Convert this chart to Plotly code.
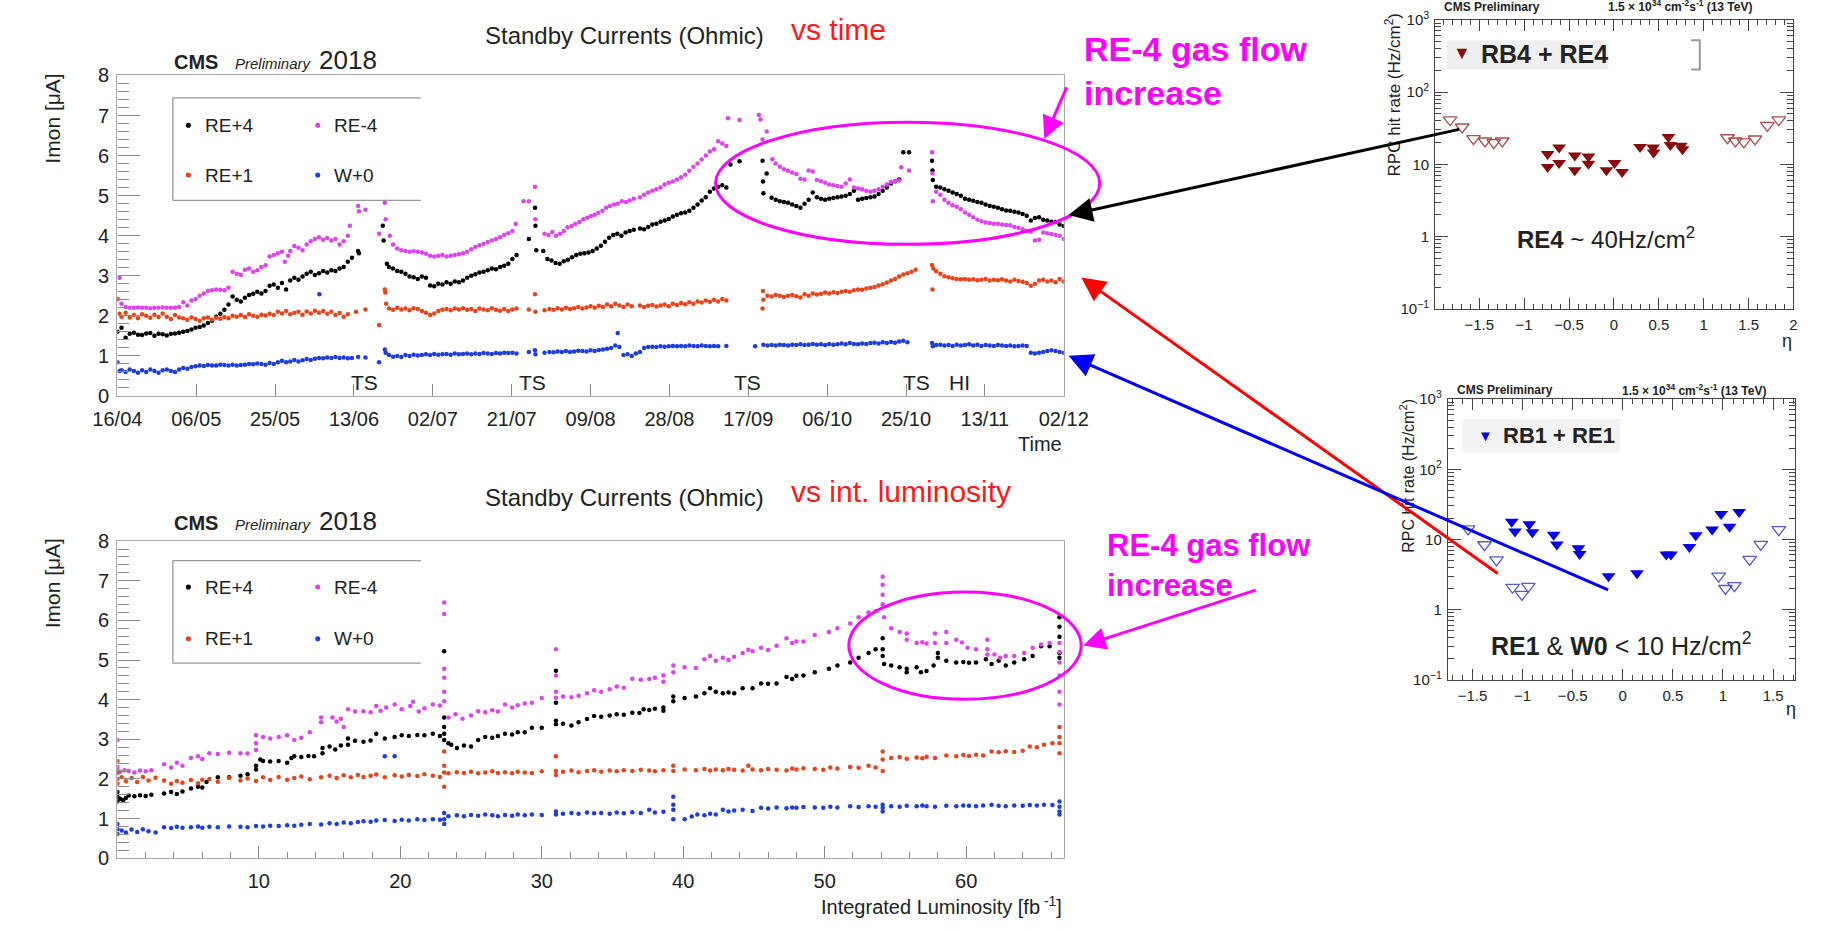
import plotly.graph_objects as go

W, H = 1825, 929
FONT = "Liberation Sans, Arial, Helvetica, sans-serif"

# ---------------------------------------------------------------- data
DATE_LABELS = ["16/04", "06/05", "25/05", "13/06", "02/07", "21/07", "09/08",
               "28/08", "17/09", "06/10", "25/10", "13/11", "02/12"]
DAY_SPAN = 230  # days from 16/04 to 02/12

# Standby currents vs time: (days since 16/04, Imon [uA])
RE_P4_TIME = [
    (0, 1.60), (1, 1.70), (2, 1.45), (3, 1.55), (4, 1.58), (5, 1.53), (6, 1.52), (7, 1.56), (8, 1.57),
    (9, 1.50), (10, 1.55), (11, 1.54), (12, 1.51), (13, 1.55), (14, 1.56), (15, 1.58), (16, 1.60),
    (17, 1.62), (18, 1.66), (19, 1.70), (20, 1.72), (21, 1.76), (22, 1.82), (23, 1.88), (24, 1.98),
    (25, 2.05), (26, 2.15), (27, 2.28), (28, 2.48), (29, 2.40), (30, 2.36), (31, 2.45), (32, 2.52),
    (33, 2.55), (34, 2.60), (35, 2.56), (36, 2.62), (37, 2.75), (38, 2.78), (39, 2.70), (40, 2.82),
    (41, 2.66), (42, 2.88), (43, 2.95), (44, 2.90), (45, 2.98), (46, 3.05), (47, 3.10), (48, 3.02),
    (49, 3.06), (50, 3.12), (51, 3.08), (52, 3.14), (53, 3.12), (54, 3.18), (55, 3.22), (56, 3.35),
    (57, 3.45), (58.5, 3.62), (58.7, 3.56), (64.5, 4.25), (64.7, 3.88), (65.5, 3.30), (66, 3.22),
    (67, 3.18), (68, 3.12), (69, 3.10), (70, 3.05), (71, 2.98), (72, 2.96), (73, 2.92), (74, 2.98),
    (75, 2.95), (76, 2.76), (77, 2.74), (78, 2.80), (79, 2.78), (80, 2.84), (81, 2.80), (82, 2.86),
    (83, 2.84), (84, 2.88), (85, 2.95), (86, 3.00), (87, 3.04), (88, 3.08), (89, 3.10), (90, 3.14),
    (91, 3.18), (92, 3.16), (93, 3.22), (94, 3.25), (95, 3.30), (96, 3.42), (97, 3.52), (100, 3.92),
    (101.5, 4.70), (101.6, 4.25), (101.8, 3.64), (103.5, 3.62), (104.5, 3.42), (105.5, 3.38),
    (106.5, 3.32), (107.5, 3.30), (108.5, 3.36), (109.5, 3.40), (110.5, 3.46), (111.5, 3.52),
    (112.5, 3.55), (113.5, 3.56), (114.5, 3.58), (115.5, 3.62), (116.5, 3.68), (117.5, 3.75),
    (118.5, 3.85), (119.5, 3.95), (120.5, 4.02), (121.5, 4.05), (122.5, 4.00), (123.5, 4.08),
    (124.5, 4.12), (125.5, 4.15), (127, 4.18), (128, 4.16), (129, 4.22), (130, 4.28), (131, 4.30),
    (132, 4.35), (133, 4.38), (134, 4.42), (135, 4.48), (136, 4.52), (137, 4.56), (138, 4.58),
    (139, 4.62), (140, 4.70), (141, 4.78), (142, 4.88), (143, 4.96), (144, 5.10), (145, 5.18),
    (146, 5.22), (147, 5.26), (148, 5.20), (149, 5.78), (151.2, 5.86), (156.8, 5.87), (156.9, 5.35),
    (157, 5.06), (157.8, 5.55), (159, 4.95), (160, 4.90), (161, 4.86), (162, 4.84), (163, 4.82),
    (164, 4.78), (165, 4.74), (166, 4.70), (167, 4.80), (168, 4.90), (169, 5.08), (170, 4.96),
    (171, 4.92), (172, 4.90), (173, 4.92), (174, 4.94), (175, 4.96), (176, 4.98), (177, 5.00),
    (178, 5.04), (179, 5.12), (180, 4.90), (181, 4.92), (182, 4.94), (183, 4.96), (184, 4.98),
    (185, 5.04), (186, 5.12), (187, 5.20), (188, 5.30), (189, 5.36), (190, 5.40), (191, 6.08),
    (192.4, 6.08), (198, 5.87), (198.1, 5.63), (198.2, 5.39), (199, 5.22), (200, 5.20), (201, 5.16),
    (202, 5.12), (203, 5.08), (204, 5.04), (205, 5.00), (206, 4.92), (207, 4.90), (208, 4.87),
    (209, 4.84), (210, 4.82), (211, 4.78), (212, 4.74), (213, 4.72), (214, 4.70), (215, 4.66),
    (216, 4.63), (217, 4.62), (218, 4.60), (219, 4.58), (220, 4.54), (221, 4.50), (222, 4.38),
    (223, 4.44), (224, 4.46), (225, 4.40), (226, 4.38), (227, 4.35), (228, 4.34), (229, 4.28),
    (230, 4.24),
]
RE_M4_TIME = [
    (0, 2.42), (0.5, 2.95), (1, 2.30), (2, 2.22), (3, 2.20), (4, 2.20), (5, 2.21), (6, 2.20), (7, 2.20),
    (8, 2.19), (9, 2.20), (10, 2.20), (11, 2.21), (12, 2.20), (13, 2.20), (14, 2.20), (15, 2.22),
    (16, 2.34), (17, 2.26), (18, 2.38), (19, 2.42), (20, 2.50), (21, 2.56), (22, 2.62), (23, 2.64),
    (24, 2.66), (25, 2.65), (26, 2.64), (27, 2.70), (28, 3.10), (29, 3.05), (30, 3.02), (31, 3.15),
    (32, 3.18), (33, 3.10), (34, 3.14), (35, 3.22), (36, 3.26), (37, 3.48), (38, 3.52), (39, 3.56),
    (40, 3.60), (40.7, 3.35), (41.5, 3.50), (42, 3.62), (43, 3.74), (44, 3.70), (45, 3.64), (46, 3.78),
    (47, 3.86), (48, 3.92), (49, 3.96), (50, 3.90), (51, 3.94), (52, 3.88), (53, 3.92), (54, 3.78),
    (55, 3.86), (56, 4.00), (56.5, 4.25), (58.5, 4.74), (58.7, 4.61), (60.3, 4.65), (63.6, 4.05),
    (65, 4.82), (65.2, 4.41), (66.2, 4.00), (67, 3.78), (68, 3.68), (69, 3.64), (70, 3.62), (71, 3.60),
    (72, 3.61), (73, 3.60), (74, 3.58), (75, 3.55), (76, 3.50), (77, 3.48), (78, 3.50), (79, 3.52),
    (80, 3.48), (81, 3.50), (82, 3.52), (83, 3.54), (84, 3.56), (85, 3.60), (86, 3.66), (87, 3.72),
    (88, 3.76), (89, 3.80), (90, 3.84), (91, 3.88), (92, 3.92), (93, 3.96), (94, 4.02), (95, 4.06),
    (96, 4.12), (96.8, 4.29), (98.7, 4.86), (100, 4.86), (101.5, 5.22), (101.6, 4.41), (103.8, 4.05),
    (104.8, 4.02), (105.7, 4.09), (106.6, 4.00), (107.6, 4.05), (108.5, 4.12), (109.4, 4.21),
    (110.4, 4.24), (111.3, 4.29), (112.3, 4.34), (113.2, 4.41), (114.2, 4.45), (115.1, 4.49),
    (116, 4.52), (116.9, 4.57), (117.9, 4.62), (118.8, 4.70), (119.7, 4.74), (120.7, 4.78),
    (121.6, 4.80), (122.6, 4.86), (123.6, 4.84), (124.5, 4.88), (125.5, 4.92), (127, 4.96), (128, 5.02),
    (129, 5.08), (130, 5.12), (131, 5.16), (132, 5.20), (133, 5.28), (134, 5.32), (135, 5.35),
    (136, 5.40), (137, 5.46), (138, 5.52), (139, 5.62), (140, 5.72), (141, 5.80), (142, 5.90),
    (143, 6.00), (144, 6.10), (145, 6.16), (146, 6.36), (147, 6.30), (148, 6.24), (148.4, 6.93),
    (151.2, 6.89), (155.9, 7.01), (156.3, 6.90), (156.8, 6.40), (157.8, 6.60), (159.2, 5.91),
    (160, 5.80), (161, 5.72), (162, 5.66), (163, 5.62), (164, 5.58), (165, 5.54), (166, 5.42),
    (167, 5.40), (168, 5.63), (169, 5.60), (170, 5.39), (171, 5.36), (172, 5.32), (173, 5.28),
    (174, 5.26), (175, 5.24), (176, 5.22), (177, 5.30), (178, 5.40), (179, 5.20), (180, 5.18),
    (181, 5.16), (182, 5.12), (183, 5.10), (184, 5.12), (185, 5.16), (186, 5.22), (187, 5.28),
    (188, 5.34), (189, 5.36), (190, 5.38), (190.5, 5.71), (192.4, 5.63), (198, 6.08), (198.1, 5.55),
    (198.2, 4.86), (199, 5.10), (200, 5.02), (201, 4.90), (202, 4.82), (203, 4.76), (204, 4.72),
    (205, 4.66), (206, 4.58), (207, 4.52), (208, 4.46), (209, 4.40), (210, 4.36), (211, 4.33),
    (212, 4.32), (213, 4.30), (214, 4.30), (215, 4.28), (216, 4.27), (217, 4.26), (218, 4.22),
    (219, 4.20), (220, 4.16), (221, 4.12), (222, 4.10), (223, 3.88), (224, 3.90), (225, 4.08),
    (226, 4.06), (227, 4.04), (228, 4.02), (229, 4.00), (230, 3.92),
]
RE_P1_TIME = [
    (0, 2.42), (0.5, 2.05), (1, 1.98), (2, 2.08), (3, 1.96), (4, 2.02), (5, 1.94), (6, 2.04), (7, 2.00),
    (8, 1.95), (9, 2.03), (10, 1.97), (11, 2.06), (12, 1.98), (13, 1.92), (14, 2.02), (15, 1.96),
    (16, 1.94), (17, 1.90), (18, 1.96), (19, 1.92), (20, 1.88), (21, 1.94), (22, 1.96), (23, 1.90),
    (24, 1.95), (25, 1.93), (26, 1.97), (27, 1.94), (28, 2.00), (29, 1.98), (30, 2.02), (31, 1.97),
    (32, 2.04), (33, 2.00), (34, 1.98), (35, 2.03), (36, 2.01), (37, 2.05), (38, 2.02), (39, 2.10),
    (40, 2.06), (41, 2.12), (42, 2.04), (43, 2.08), (44, 2.10), (45, 2.03), (46, 2.11), (47, 2.06),
    (48, 2.13), (49, 2.08), (50, 2.12), (51, 2.05), (52, 2.10), (53, 2.02), (54, 2.07), (55, 1.98),
    (56, 2.04), (58, 2.10), (60.3, 2.16), (63.6, 1.77), (65, 2.66), (65.1, 2.58), (65.3, 2.30),
    (66, 2.18), (67, 2.15), (68, 2.20), (69, 2.16), (70, 2.18), (71, 2.14), (72, 2.19), (73, 2.17),
    (74, 2.12), (75, 2.08), (76, 2.02), (77, 2.06), (78, 2.12), (79, 2.15), (80, 2.17), (81, 2.14),
    (82, 2.18), (83, 2.16), (84, 2.19), (85, 2.15), (86, 2.17), (87, 2.12), (88, 2.18), (89, 2.16),
    (90, 2.14), (91, 2.19), (92, 2.15), (93, 2.13), (94, 2.17), (95, 2.12), (96, 2.16), (97, 2.18),
    (100, 2.16), (101.5, 2.54), (101.6, 2.10), (103.8, 2.14), (105, 2.17), (106, 2.15), (107, 2.19),
    (108, 2.16), (109, 2.20), (110, 2.17), (111, 2.19), (112, 2.22), (113, 2.18), (114, 2.21),
    (115, 2.24), (116, 2.20), (117, 2.25), (118, 2.22), (119, 2.28), (120, 2.24), (121, 2.30),
    (122, 2.26), (123, 2.22), (124, 2.28), (125, 2.24), (127, 2.26), (128, 2.22), (129, 2.25),
    (130, 2.27), (131, 2.23), (132, 2.26), (133, 2.28), (134, 2.24), (135, 2.30), (136, 2.27),
    (137, 2.32), (138, 2.29), (139, 2.34), (140, 2.30), (141, 2.36), (142, 2.33), (143, 2.38),
    (144, 2.35), (145, 2.40), (146, 2.36), (147, 2.42), (148, 2.38), (156.8, 2.18), (156.9, 2.62),
    (157, 2.40), (158, 2.50), (159, 2.48), (160, 2.52), (161, 2.50), (162, 2.47), (163, 2.50),
    (164, 2.52), (165, 2.49), (166, 2.46), (167, 2.54), (168, 2.50), (169, 2.56), (170, 2.53),
    (171, 2.55), (172, 2.58), (173, 2.56), (174, 2.59), (175, 2.57), (176, 2.60), (177, 2.62),
    (178, 2.60), (179, 2.64), (180, 2.66), (181, 2.65), (182, 2.68), (183, 2.70), (184, 2.72),
    (185, 2.76), (186, 2.79), (187, 2.83), (188, 2.88), (189, 2.92), (190, 2.98), (191, 3.03),
    (192, 3.06), (193, 3.10), (194, 3.15), (198, 3.27), (198.1, 2.66), (198.3, 3.18), (199, 3.11),
    (200, 3.05), (201, 2.99), (202, 2.96), (203, 2.94), (204, 2.92), (205, 2.91), (206, 2.92),
    (207, 2.90), (208, 2.91), (209, 2.89), (210, 2.90), (211, 2.92), (212, 2.88), (213, 2.90),
    (214, 2.89), (215, 2.91), (216, 2.88), (217, 2.86), (218, 2.90), (219, 2.87), (220, 2.85),
    (221, 2.82), (222, 2.75), (223, 2.80), (224, 2.88), (225, 2.90), (226, 2.86), (227, 2.88),
    (228, 2.84), (229, 2.92), (230, 2.86),
]
W_P0_TIME = [
    (0, 0.84), (0.5, 0.62), (1, 0.64), (2, 0.60), (3, 0.66), (4, 0.62), (5, 0.58), (6, 0.64), (7, 0.60),
    (8, 0.66), (9, 0.62), (10, 0.58), (11, 0.64), (12, 0.66), (13, 0.62), (14, 0.60), (15, 0.66),
    (16, 0.70), (17, 0.68), (18, 0.72), (19, 0.74), (20, 0.76), (21, 0.75), (22, 0.77), (23, 0.76),
    (24, 0.76), (25, 0.78), (26, 0.77), (27, 0.76), (28, 0.78), (29, 0.76), (30, 0.77), (31, 0.78),
    (32, 0.80), (33, 0.79), (34, 0.81), (35, 0.80), (36, 0.78), (37, 0.82), (38, 0.80), (39, 0.84),
    (40, 0.88), (41, 0.84), (42, 0.86), (43, 0.90), (44, 0.86), (45, 0.89), (46, 0.92), (47, 0.90),
    (48, 0.93), (49, 0.95), (49.1, 2.54), (50, 0.94), (51, 0.96), (52, 0.95), (53, 0.97), (54, 0.95),
    (55, 0.96), (56, 0.94), (57, 0.95), (58.5, 0.97), (60.3, 0.96), (63.6, 0.84), (65, 1.16),
    (65.2, 1.08), (66, 1.02), (67, 0.98), (68, 1.00), (69, 0.97), (70, 1.02), (71, 1.00), (72, 1.03),
    (73, 1.01), (74, 1.02), (75, 1.04), (76, 1.02), (77, 1.05), (78, 1.03), (79, 1.04), (80, 1.05),
    (81, 1.03), (82, 1.06), (83, 1.04), (84, 1.05), (85, 1.06), (86, 1.04), (87, 1.06), (88, 1.05),
    (89, 1.07), (90, 1.06), (91, 1.05), (92, 1.07), (93, 1.06), (94, 1.08), (95, 1.07), (96, 1.08),
    (97, 1.06), (100, 1.10), (101.5, 1.14), (101.6, 1.04), (103.8, 1.08), (105, 1.10), (106, 1.09),
    (107, 1.11), (108, 1.10), (109, 1.12), (110, 1.10), (111, 1.11), (112, 1.13), (113, 1.12),
    (114, 1.11), (115, 1.14), (116, 1.12), (117, 1.15), (118, 1.16), (119, 1.18), (120, 1.20),
    (121, 1.26), (121.6, 1.57), (122, 1.22), (123, 1.02), (124, 1.04), (125, 1.00), (126, 1.06),
    (127, 1.10), (128, 1.20), (129, 1.22), (130, 1.23), (131, 1.22), (132, 1.24), (133, 1.23),
    (134, 1.24), (135, 1.25), (136, 1.24), (137, 1.25), (138, 1.24), (139, 1.26), (140, 1.25),
    (141, 1.24), (142, 1.26), (143, 1.25), (144, 1.24), (145, 1.25), (146, 1.24), (148, 1.25),
    (155, 1.24), (157, 1.28), (158, 1.26), (159, 1.27), (160, 1.26), (161, 1.28), (162, 1.27),
    (163, 1.26), (164, 1.28), (165, 1.27), (166, 1.29), (167, 1.27), (168, 1.28), (169, 1.30),
    (170, 1.28), (171, 1.29), (172, 1.27), (173, 1.30), (174, 1.28), (175, 1.29), (176, 1.31),
    (177, 1.29), (178, 1.32), (179, 1.30), (180, 1.29), (181, 1.31), (182, 1.30), (183, 1.32),
    (184, 1.33), (185, 1.31), (186, 1.34), (187, 1.32), (188, 1.35), (189, 1.33), (190, 1.36),
    (191, 1.38), (192, 1.34), (198, 1.32), (198.2, 1.24), (199, 1.27), (200, 1.28), (201, 1.26),
    (202, 1.27), (203, 1.25), (204, 1.28), (205, 1.26), (206, 1.27), (207, 1.29), (208, 1.26),
    (209, 1.28), (210, 1.25), (211, 1.27), (212, 1.26), (213, 1.25), (214, 1.27), (215, 1.26),
    (216, 1.25), (217, 1.26), (218, 1.24), (219, 1.25), (220, 1.26), (221, 1.25), (222, 1.08),
    (223, 1.06), (224, 1.08), (225, 1.10), (226, 1.12), (227, 1.14), (228, 1.12), (229, 1.10),
    (230, 1.08),
]

# Standby currents vs integrated luminosity: (fb^-1, Imon [uA])
RE_P4_LUMI = [
    (0.0, 1.43), (0.0, 1.55), (0.0, 1.67), (0.2, 1.50), (0.4, 1.46), (0.6, 1.52), (0.8, 1.58), (1.2, 1.56),
    (1.6, 1.59), (2.0, 1.57), (2.4, 1.60), (3.3, 1.63), (3.8, 1.67), (4.2, 1.62), (4.6, 1.68), (5.2, 1.76),
    (5.7, 1.80), (6.0, 1.78), (6.3, 1.92), (7.1, 2.04), (7.9, 2.04), (8.7, 2.08), (9.2, 2.12), (9.8, 2.24),
    (9.8, 2.33), (10.1, 2.49), (10.3, 2.45), (10.8, 2.44), (11.4, 2.45), (12.0, 2.41), (12.3, 2.53),
    (12.5, 2.57), (13.0, 2.55), (13.5, 2.58), (13.9, 2.57), (14.5, 2.65), (14.5, 2.78), (15.0, 2.82),
    (15.4, 2.74), (15.8, 2.84), (16.3, 3.02), (16.3, 2.86), (16.8, 2.96), (17.4, 2.94), (17.9, 2.97),
    (18.3, 3.14), (18.9, 3.02), (19.6, 3.06), (20.1, 3.10), (20.6, 3.08), (21.2, 3.11), (21.7, 3.10),
    (22.3, 3.14), (22.8, 3.08), (23.1, 5.22), (23.1, 3.55), (23.1, 3.31), (23.1, 3.14), (23.1, 2.98),
    (23.4, 2.90), (23.6, 2.86), (24.0, 2.78), (24.5, 2.84), (25.0, 2.82), (25.5, 2.98), (26.0, 3.06),
    (26.5, 3.04), (26.9, 3.08), (27.4, 3.14), (27.9, 3.12), (28.3, 3.18), (28.8, 3.18), (29.3, 3.29),
    (30.0, 3.29), (31.0, 4.73), (31.0, 3.92), (31.0, 3.47), (31.0, 3.38), (31.5, 3.39), (32.1, 3.35),
    (32.6, 3.43), (33.2, 3.51), (33.7, 3.59), (34.2, 3.57), (34.8, 3.60), (35.3, 3.63), (35.8, 3.62),
    (36.4, 3.67), (36.9, 3.66), (37.2, 3.76), (37.6, 3.74), (38.0, 3.77), (38.6, 3.80), (38.6, 3.72),
    (39.3, 4.08), (39.3, 3.96), (40.1, 4.04), (40.9, 4.08), (41.5, 4.16), (41.9, 4.29), (42.3, 4.20),
    (42.8, 4.16), (43.2, 4.18), (43.6, 4.16), (44.2, 4.29), (44.9, 4.29), (45.5, 4.41), (46.0, 4.40),
    (46.6, 4.41), (47.3, 4.57), (47.7, 4.52), (48.0, 4.60), (48.5, 4.61), (49.3, 4.69), (50.3, 4.78),
    (50.9, 4.86), (51.8, 4.94), (52.4, 5.06), (53.1, 5.18), (53.6, 5.27), (54.1, 5.55), (54.1, 5.27),
    (54.1, 5.10), (54.2, 4.90), (54.7, 4.86), (55.3, 4.82), (55.8, 4.78), (55.8, 4.69), (56.5, 4.82),
    (56.8, 4.69), (57.2, 4.72), (57.7, 4.86), (58.0, 5.18), (58.0, 5.06), (58.6, 4.98), (59.3, 4.94),
    (59.8, 4.95), (60.2, 4.93), (60.7, 4.94), (61.4, 5.02), (61.8, 4.90), (62.3, 4.98), (62.8, 4.86),
    (63.4, 4.94), (64.1, 5.02), (64.7, 5.10), (65.3, 5.35), (65.9, 5.35), (66.6, 6.08), (66.6, 5.84),
    (66.6, 5.59), (66.6, 5.18), (66.6, 5.06),
]
RE_M4_LUMI = [
    (0.0, 2.98), (0.0, 2.30), (0.0, 2.22), (0.0, 2.15), (0.2, 2.18), (0.5, 2.22), (0.8, 2.20), (1.2, 2.16),
    (1.6, 2.21), (2.0, 2.19), (2.4, 2.22), (3.3, 2.37), (3.8, 2.29), (4.2, 2.41), (4.6, 2.33), (5.2, 2.53),
    (5.7, 2.57), (6.0, 2.50), (6.5, 2.65), (7.1, 2.63), (7.9, 2.66), (8.7, 2.65), (9.2, 2.64), (9.8, 3.10),
    (9.8, 2.90), (9.8, 2.73), (10.3, 3.06), (10.8, 3.02), (11.4, 3.06), (12.0, 3.10), (12.5, 2.98),
    (13.0, 3.04), (13.6, 3.18), (14.4, 3.55), (14.4, 3.43), (15.2, 3.55), (15.5, 3.45), (15.8, 3.52),
    (16.0, 3.31), (16.3, 3.76), (16.8, 3.70), (17.4, 3.71), (17.9, 3.68), (18.3, 3.84), (18.6, 3.72),
    (19.0, 3.80), (19.6, 3.88), (20.1, 3.76), (20.7, 3.84), (20.9, 3.95), (21.3, 3.70), (21.7, 3.78),
    (22.3, 3.88), (22.8, 3.85), (23.1, 6.45), (23.1, 6.16), (23.1, 4.78), (23.1, 4.55), (23.1, 4.20),
    (23.1, 3.96), (23.4, 3.55), (23.9, 3.63), (24.4, 3.52), (25.0, 3.60), (25.5, 3.71), (26.0, 3.68),
    (26.5, 3.73), (26.9, 3.70), (27.4, 3.88), (27.9, 3.80), (28.3, 3.86), (28.8, 3.90), (29.3, 3.92),
    (30.0, 4.04), (31.0, 5.27), (31.0, 4.61), (31.0, 4.20), (31.0, 4.05), (31.5, 4.08), (32.1, 4.06),
    (32.6, 4.10), (33.2, 4.16), (33.7, 4.24), (34.2, 4.20), (34.8, 4.26), (35.3, 4.33), (35.8, 4.30),
    (36.4, 4.53), (37.0, 4.50), (37.6, 4.52), (38.0, 4.55), (38.6, 4.61), (38.6, 4.45), (39.3, 4.86),
    (39.3, 4.69), (40.1, 4.82), (40.9, 4.80), (41.5, 5.02), (41.9, 5.10), (42.3, 4.98), (42.8, 5.06),
    (43.2, 5.00), (43.6, 5.08), (44.2, 5.18), (44.6, 5.26), (44.9, 5.22), (45.5, 5.31), (46.0, 5.25),
    (46.6, 5.36), (47.3, 5.55), (47.7, 5.43), (48.0, 5.47), (48.5, 5.47), (49.3, 5.63), (50.3, 5.71),
    (50.9, 5.80), (51.8, 5.92), (52.4, 6.08), (53.1, 6.20), (53.6, 6.24), (54.1, 7.10), (54.1, 6.90),
    (54.1, 6.65), (54.1, 6.41), (54.2, 6.08), (54.7, 5.80), (55.3, 5.71), (55.8, 5.67), (55.8, 5.51),
    (56.5, 5.43), (56.9, 5.45), (57.2, 5.42), (57.8, 5.67), (57.8, 5.43), (58.6, 5.71), (58.6, 5.43),
    (59.3, 5.51), (59.7, 5.44), (60.1, 5.31), (60.7, 5.27), (61.5, 5.51), (61.5, 5.27), (61.5, 5.14),
    (62.0, 5.14), (62.4, 5.06), (62.8, 5.10), (63.4, 5.10), (64.1, 5.18), (64.7, 5.31), (65.3, 5.39),
    (65.9, 5.43), (66.6, 5.43), (66.6, 5.20), (66.6, 4.94), (66.6, 4.61), (66.6, 4.20), (66.6, 3.88),
]
RE_P1_LUMI = [
    (0.0, 2.45), (0.0, 2.16), (0.0, 2.00), (0.0, 1.88), (0.3, 2.04), (0.6, 1.94), (1.0, 2.02), (1.4, 1.92),
    (1.8, 2.05), (2.2, 1.96), (2.7, 2.03), (3.3, 1.96), (3.8, 1.88), (4.2, 1.95), (4.6, 1.90), (5.2, 1.97),
    (5.7, 1.89), (6.0, 1.98), (6.5, 2.00), (7.1, 1.93), (7.9, 2.02), (8.7, 1.96), (9.2, 2.01), (9.8, 1.95),
    (10.3, 2.04), (10.8, 1.97), (11.4, 2.05), (12.0, 1.98), (12.5, 2.02), (13.0, 2.06), (13.6, 1.99),
    (14.4, 2.04), (15.0, 2.08), (15.5, 2.02), (16.0, 2.09), (16.5, 2.04), (17.0, 2.10), (17.4, 2.05),
    (17.9, 2.08), (18.3, 2.11), (18.9, 2.04), (19.6, 2.09), (20.1, 2.06), (20.6, 2.10), (21.2, 2.07),
    (21.7, 2.12), (22.3, 2.08), (22.8, 2.05), (23.1, 2.69), (23.1, 2.33), (23.1, 2.16), (23.1, 1.80),
    (23.4, 2.14), (24.0, 2.17), (24.5, 2.15), (25.0, 2.18), (25.5, 2.14), (26.0, 2.16), (26.5, 2.19),
    (26.9, 2.15), (27.4, 2.17), (27.9, 2.14), (28.3, 2.18), (28.8, 2.16), (29.3, 2.15), (30.0, 2.19),
    (31.0, 2.57), (31.0, 2.20), (31.0, 2.10), (31.5, 2.18), (32.1, 2.21), (32.6, 2.17), (33.2, 2.20),
    (33.7, 2.22), (34.2, 2.18), (34.8, 2.21), (35.3, 2.19), (35.8, 2.22), (36.4, 2.20), (37.0, 2.23),
    (37.6, 2.21), (38.0, 2.19), (38.6, 2.22), (39.3, 2.33), (39.3, 2.20), (40.1, 2.24), (40.9, 2.22),
    (41.5, 2.25), (41.9, 2.21), (42.3, 2.24), (42.8, 2.22), (43.2, 2.25), (43.6, 2.23), (44.2, 2.21),
    (44.6, 2.33), (44.9, 2.24), (45.5, 2.22), (46.0, 2.25), (46.6, 2.23), (47.3, 2.21), (47.7, 2.26),
    (48.0, 2.24), (48.5, 2.27), (49.3, 2.25), (49.9, 2.23), (50.4, 2.29), (50.9, 2.26), (51.8, 2.30),
    (52.4, 2.28), (53.1, 2.33), (53.6, 2.29), (54.1, 2.69), (54.1, 2.49), (54.1, 2.20), (54.7, 2.53),
    (55.3, 2.55), (55.8, 2.51), (56.5, 2.54), (56.9, 2.52), (57.2, 2.56), (57.8, 2.53), (58.6, 2.59),
    (59.3, 2.57), (59.8, 2.60), (60.2, 2.58), (60.7, 2.61), (61.2, 2.59), (61.8, 2.69), (62.3, 2.67),
    (62.8, 2.70), (63.4, 2.68), (64.0, 2.71), (64.5, 2.82), (65.0, 2.80), (65.5, 2.86), (66.1, 2.90),
    (66.6, 3.31), (66.6, 3.06), (66.6, 2.90), (66.6, 2.65),
]
W_P0_LUMI = [
    (0.0, 0.86), (0.0, 0.73), (0.0, 0.61), (0.3, 0.70), (0.6, 0.65), (1.0, 0.72), (1.4, 0.66), (1.8, 0.73),
    (2.2, 0.68), (2.7, 0.65), (3.3, 0.78), (3.8, 0.76), (4.2, 0.79), (4.6, 0.77), (5.2, 0.78), (5.7, 0.80),
    (6.0, 0.77), (6.5, 0.79), (7.1, 0.78), (7.9, 0.80), (8.7, 0.79), (9.2, 0.78), (9.8, 0.81), (10.3, 0.80),
    (10.8, 0.82), (11.4, 0.81), (12.0, 0.83), (12.5, 0.82), (13.0, 0.84), (13.6, 0.86), (14.4, 0.85),
    (15.0, 0.88), (15.5, 0.86), (16.0, 0.90), (16.5, 0.88), (17.0, 0.91), (17.4, 0.93), (17.9, 0.92),
    (18.3, 0.95), (18.9, 0.96), (18.9, 2.57), (19.6, 2.57), (19.6, 0.94), (20.1, 0.97), (20.6, 0.95),
    (21.2, 0.98), (21.7, 0.96), (22.3, 0.98), (22.8, 0.97), (23.1, 1.14), (23.1, 0.98), (23.1, 0.86),
    (23.4, 1.06), (24.0, 1.08), (24.5, 1.06), (25.0, 1.09), (25.5, 1.07), (26.0, 1.10), (26.5, 1.08),
    (26.9, 1.06), (27.4, 1.09), (27.9, 1.07), (28.3, 1.10), (28.8, 1.08), (29.3, 1.10), (30.0, 1.09),
    (31.0, 1.18), (31.0, 1.10), (31.5, 1.12), (32.1, 1.14), (32.6, 1.12), (33.2, 1.15), (33.7, 1.13),
    (34.2, 1.14), (34.8, 1.12), (35.3, 1.15), (35.8, 1.13), (36.4, 1.16), (37.0, 1.14), (37.6, 1.22),
    (38.0, 1.15), (38.6, 1.17), (39.3, 1.55), (39.3, 1.35), (39.3, 1.22), (39.3, 0.98), (40.1, 0.98),
    (40.6, 1.05), (41.0, 1.10), (41.5, 1.08), (41.9, 1.12), (42.3, 1.10), (42.8, 1.22), (43.2, 1.18),
    (43.6, 1.20), (44.2, 1.22), (44.9, 1.19), (45.5, 1.27), (46.0, 1.25), (46.6, 1.28), (47.3, 1.26),
    (47.7, 1.28), (48.0, 1.27), (48.5, 1.29), (49.3, 1.28), (49.9, 1.27), (50.4, 1.30), (50.9, 1.28),
    (51.8, 1.31), (52.4, 1.29), (53.1, 1.31), (53.6, 1.30), (54.1, 1.35), (54.1, 1.27), (54.1, 1.18),
    (54.7, 1.31), (55.3, 1.30), (55.8, 1.32), (56.5, 1.31), (56.9, 1.33), (57.2, 1.31), (57.8, 1.30),
    (58.6, 1.32), (59.3, 1.31), (59.8, 1.33), (60.2, 1.32), (60.7, 1.31), (61.2, 1.33), (61.8, 1.35),
    (62.3, 1.32), (62.8, 1.31), (63.4, 1.33), (64.0, 1.32), (64.5, 1.34), (65.0, 1.33), (65.5, 1.35),
    (66.1, 1.34), (66.6, 1.43), (66.6, 1.30), (66.6, 1.18), (66.6, 1.10),
]

# RPC hit rate vs eta, station 4 (open: endcap, filled: barrel)
RE4_ETA = [-1.825, -1.69, -1.564, -1.436, -1.338, -1.244, 1.265, 1.353, 1.447, 1.571, 1.709, 1.836]
RE4_RATE = [41.3, 32.8, 22.6, 21.0, 19.9, 21.0, 23.3, 21.0, 20.4, 22.4, 34.6, 41.3]
RB4_ETA = [-0.738, -0.738, -0.611, -0.611, -0.436, -0.436, -0.284, -0.284, -0.084, 0.007, 0.091,
           0.291, 0.436, 0.442, 0.607, 0.629, 0.745, 0.764]
RB4_RATE = [13.9, 9.2, 17.1, 10.4, 13.2, 8.3, 12.8, 10.2, 8.3, 10.4, 7.8,
            17.4, 17.1, 14.6, 23.8, 18.5, 18.0, 16.2]

# RPC hit rate vs eta, station 1
RE1_ETA = [-1.544, -1.38, -1.26, -1.10, -1.006, -0.943, 0.956, 1.025, 1.114, 1.266, 1.377, 1.557]
RE1_RATE = [14.1, 8.4, 5.1, 2.08, 1.65, 2.15, 3.0, 2.0, 2.19, 5.2, 8.5, 13.8]
RB1_ETA = [-1.108, -1.076, -0.934, -0.902, -0.69, -0.658, -0.443, -0.43, -0.142, 0.142,
           0.434, 0.481, 0.665, 0.728, 0.892, 0.981, 1.066, 1.161]
RB1_RATE = [17.8, 13.0, 16.5, 12.7, 11.7, 8.5, 7.5, 6.2, 3.0, 3.3,
            6.1, 6.1, 7.8, 11.5, 13.8, 23.1, 15.2, 24.6]

SERIES = [("RE+4", "#000000"), ("RE-4", "#dd44ee"), ("RE+1", "#e8441c"), ("W+0", "#1e3ddc")]
LOG_TICKS = [0.1, 1, 10, 100, 1000]
LOG_TEXT = ["10<sup>\u22121</sup>", "1", "10", "10<sup>2</sup>", "10<sup>3</sup>"]

C_MAG = "#ff00ff"


# ---------------------------------------------------------------- helpers
def fx(p):
    return p / W


def fy(p):
    return 1 - p / H


def dom_x(a, b):
    return [fx(a), fx(b)]


def dom_y(top, bottom):
    return [fy(bottom), fy(top)]


annotations = []
shapes = []


def text(t, x, y, size, color="#222222", xa="left", ya="middle", angle=0, align="left"):
    annotations.append(dict(text=t, x=fx(x), y=fy(y), xref="paper", yref="paper",
                            xanchor=xa, yanchor=ya, showarrow=False, textangle=angle, align=align,
                            font=dict(family=FONT, size=size, color=color)))


def arrow(tip, tail, color, width=3, size=1.6):
    annotations.append(dict(text="", x=fx(tip[0]), y=fy(tip[1]), xref="paper", yref="paper",
                            ax=tail[0] - tip[0], ay=tail[1] - tip[1], axref="pixel", ayref="pixel",
                            showarrow=True, arrowhead=2, arrowsize=size, arrowwidth=width,
                            arrowcolor=color, standoff=0))


def dot(cx, cy, color, r=2.6):
    shapes.append(dict(type="circle", xref="paper", yref="paper", x0=fx(cx - r), x1=fx(cx + r),
                       y0=fy(cy + r), y1=fy(cy - r), fillcolor=color, line=dict(width=0)))


def line(x0, y0, x1, y1, color="#999999", width=1.3):
    shapes.append(dict(type="line", xref="paper", yref="paper", x0=fx(x0), y0=fy(y0),
                       x1=fx(x1), y1=fy(y1), line=dict(color=color, width=width)))


# ---------------------------------------------------------------- traces
fig = go.Figure()
time_sets = [RE_P4_TIME, RE_M4_TIME, RE_P1_TIME, W_P0_TIME]
lumi_sets = [RE_P4_LUMI, RE_M4_LUMI, RE_P1_LUMI, W_P0_LUMI]
for (name, col), pts in zip(SERIES, time_sets):
    fig.add_trace(go.Scatter(x=[p[0] for p in pts], y=[p[1] for p in pts], mode="markers",
                             name=name, marker=dict(size=4.5, color=col), xaxis="x", yaxis="y"))
for (name, col), pts in zip(SERIES, lumi_sets):
    fig.add_trace(go.Scatter(x=[p[0] for p in pts], y=[p[1] for p in pts], mode="markers",
                             name=name, marker=dict(size=4.5, color=col), xaxis="x2", yaxis="y2"))

fig.add_trace(go.Scatter(x=RE4_ETA, y=RE4_RATE, mode="markers", xaxis="x3", yaxis="y3",
                         marker=dict(symbol="triangle-down-open", size=12, color="#a8504c",
                                     line=dict(width=1.3, color="#a8504c"))))
fig.add_trace(go.Scatter(x=RB4_ETA, y=RB4_RATE, mode="markers", xaxis="x3", yaxis="y3",
                         marker=dict(symbol="triangle-down", size=12, color="#880a0a")))
fig.add_trace(go.Scatter(x=RE1_ETA, y=RE1_RATE, mode="markers", xaxis="x4", yaxis="y4",
                         marker=dict(symbol="triangle-down-open", size=12, color="#5858cc",
                                     line=dict(width=1.3, color="#5858cc"))))
fig.add_trace(go.Scatter(x=RB1_ETA, y=RB1_RATE, mode="markers", xaxis="x4", yaxis="y4",
                         marker=dict(symbol="triangle-down", size=12, color="#0000e6")))

# ---------------------------------------------------------------- axes
left_tick = dict(ticks="inside", tickcolor="#8a8a8a", showline=True, linecolor="#a8a8a8",
                 linewidth=1.3, mirror=True, showgrid=False, zeroline=False,
                 tickfont=dict(family=FONT, size=20, color="#222222"))
yleft = dict(left_tick, range=[0, 8], dtick=1, tick0=0, ticklen=22, ticklabelstandoff=3,
             minor=dict(ticks="inside", dtick=0.2, tick0=0, ticklen=11, tickcolor="#8a8a8a"))

eta_common = dict(ticks="inside", tickcolor="#444444", showline=True, linecolor="#444444",
                  linewidth=1.3, mirror="allticks", showgrid=False, zeroline=False,
                  tickfont=dict(family=FONT, size=15, color="#222222"))
eta_x = dict(eta_common, dtick=0.5, tick0=0, ticklen=11, ticklabelstandoff=2,
             minor=dict(ticks="inside", dtick=0.1, tick0=0, ticklen=5, tickcolor="#444444"))
eta_y = dict(eta_common, type="log", range=[-1, 3], tickmode="array", tickvals=LOG_TICKS,
             ticktext=LOG_TEXT, ticklen=13, ticklabelstandoff=2,
             minor=dict(ticks="inside", dtick="D1", ticklen=6, tickcolor="#444444"))

fig.update_layout(
    width=W, height=H, margin=dict(l=0, r=0, t=0, b=0, pad=0),
    paper_bgcolor="white", plot_bgcolor="white", showlegend=False,
    xaxis=dict(left_tick, domain=dom_x(95, 1068), range=[0, DAY_SPAN], anchor="y",
               tickmode="array", tickvals=[i * DAY_SPAN / 12 for i in range(13)],
               ticktext=DATE_LABELS, ticklen=12, ticklabelstandoff=5),
    yaxis=dict(yleft, domain=dom_y(66, 394.3), anchor="x"),
    xaxis2=dict(left_tick, domain=dom_x(95, 1068), range=[0, 66.9], anchor="y2",
                tickmode="array", tickvals=[10, 20, 30, 40, 50, 60], ticklen=12, ticklabelstandoff=5,
                minor=dict(ticks="inside", dtick=2, tick0=0, ticklen=6, tickcolor="#8a8a8a")),
    yaxis2=dict(yleft, domain=dom_y(543, 867.7), anchor="x2"),
    xaxis3=dict(eta_x, domain=dom_x(1450, 1818.3), range=[-1.99, 2.0], anchor="y3"),
    yaxis3=dict(eta_y, domain=dom_y(9, 305), anchor="x3"),
    xaxis4=dict(eta_x, domain=dom_x(1463, 1820), range=[-1.745, 1.72], anchor="y4"),
    yaxis4=dict(eta_y, domain=dom_y(397.5, 685), anchor="x4"),
)

# ---------------------------------------------------------------- left panels: titles & legends
for title_y, cms_y, red_label in [(25, 52, "vs time"), (498, 524, "vs int. luminosity")]:
    text("Standby Currents (Ohmic)", 616, title_y, 24, xa="center")
    text(red_label, 786, title_y - 6, 30, color="#ff1a1a")
    text("<b>CMS</b>", 151, cms_y, 20)
    text("<i>Preliminary</i>", 214, cms_y + 2, 15)
    text("2018", 300, cms_y - 2, 26)

for ly, r1, r2, ytitle in [(89, 117, 168, 110), (563, 590, 643, 586)]:
    lb = ly + 105
    line(152, ly, 407, ly)
    line(152, lb, 407, lb)
    line(152, ly, 152, lb)
    for (name, col), (cx, cy) in zip(SERIES, [(168, r1), (301, r1), (168, r2), (301, r2)]):
        dot(cx, cy, col)
        text(name, cx + 15, cy, 19)
    text("Imon [\u03bcA]", 28, ytitle, 21, xa="center", angle=-90)

for label, xpos in [("TS", 349), ("TS", 522), ("TS", 743), ("TS", 917), ("HI", 961)]:
    text(label, xpos, 380, 21, xa="center")
text("Time", 1068, 444, 20, xa="right")
text("Integrated Luminosity [fb<sup> -1</sup>]", 1068, 916, 20, xa="right")

# ---------------------------------------------------------------- right panels: labels
shapes.append(dict(type="rect", xref="paper", yref="paper", x0=fx(1462), x1=fx(1628),
                   y0=fy(60), y1=fy(30), fillcolor="#efefef", line=dict(width=0), layer="below"))
shapes.append(dict(type="rect", xref="paper", yref="paper", x0=fx(1478), x1=fx(1640),
                   y0=fy(452), y1=fy(418), fillcolor="#f3f3f3", line=dict(width=0), layer="below"))
shapes.append(dict(type="path", xref="paper", yref="paper",
                   path="M {0},{1} L {2},{1} L {2},{3} L {0},{3}".format(fx(1713), fy(30), fx(1722), fy(60)),
                   line=dict(color="#9a9a9a", width=2)))

text("\u25bc", 1477, 43, 18, color="#880a0a", xa="center")
text("<b>RB4 + RE4</b>", 1495, 44, 25)
text("<b>RE4</b> ~ 40Hz/cm<sup>2</sup>", 1532, 232, 24)
text("\u25bc", 1502, 435, 15, color="#0000e6", xa="center")
text("<b>RB1 + RE1</b>", 1518, 435, 22)
text("<b>RE1</b> & <b>W0</b> < 10 Hz/cm<sup>2</sup>", 1505, 648, 25)

# run labels over both rate panels (the upper one runs off the page top)
text("<b>CMS Preliminary</b>", 1457, 5, 12, ya="bottom")
text("<b>1.5 \u00d7 10<sup>34</sup> cm<sup>-2</sup>s<sup>-1</sup> (13 TeV)</b>", 1778, 5, 12, xa="right", ya="bottom")
text("<b>CMS Preliminary</b>", 1470, 388, 12)
text("<b>1.5 \u00d7 10<sup>34</sup> cm<sup>-2</sup>s<sup>-1</sup> (13 TeV)</b>", 1792, 388, 12, xa="right")

text("RPC hit rate (Hz/cm<sup>2</sup>)", 1406, 86, 17, xa="center", angle=-90)
text("RPC hit rate (Hz/cm<sup>2</sup>)", 1421, 476, 16, xa="center", angle=-90)
text("\u03b7", 1812, 338, 18, xa="center")
text("\u03b7", 1816, 715, 18, xa="center")

# ---------------------------------------------------------------- gas-flow callouts
shapes.append(dict(type="circle", xref="paper", yref="paper", x0=fx(710), x1=fx(1105),
                   y0=fy(239), y1=fy(114), line=dict(color=C_MAG, width=3)))
shapes.append(dict(type="circle", xref="paper", yref="paper", x0=fx(847), x1=fx(1086),
                   y0=fy(705), y1=fy(595), line=dict(color=C_MAG, width=3)))
text("<b>RE-4 gas flow<br>increase</b>", 1087, 61, 34, color=C_MAG)
text("<b>RE-4 gas flow<br>increase</b>", 1110, 568, 31, color=C_MAG)
arrow((1048, 131), (1071, 78), C_MAG, width=3, size=1.5)
arrow((1088, 650), (1262, 594), C_MAG, width=3, size=1.5)

# arrows linking current bands to measured hit rates
arrow((1073, 209), (1465, 123), "#000000")
arrow((1086, 273), (1504, 570), "#ff0000")
arrow((1073, 353), (1614, 588), "#0000ee")

fig.update_layout(annotations=annotations, shapes=shapes)
fig.write_html("out.html")
